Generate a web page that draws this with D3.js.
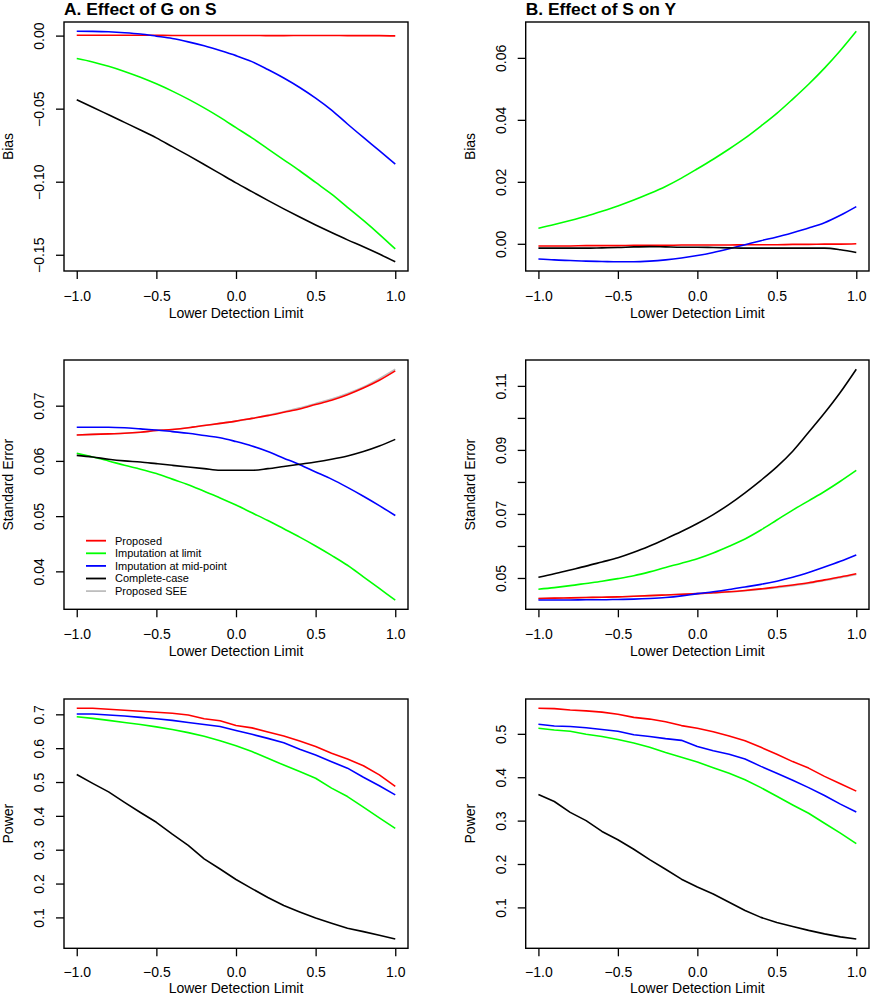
<!DOCTYPE html>
<html><head><meta charset="utf-8">
<script src="https://cdn.jsdelivr.net/npm/d3@7"></script>
<style>
body{margin:0;background:#fff}
svg{display:block}
text{font-family:"Liberation Sans",Arial,Helvetica,sans-serif;fill:#000}
</style>
</head><body>
<script>
// ---------------- data ----------------
const lowerLimit = [-1.0,-0.9,-0.8,-0.7,-0.6,-0.5,-0.4,-0.3,-0.2,-0.1,0.0,0.1,0.2,0.3,0.4,0.5,0.6,0.7,0.8,0.9,1.0];

const seriesNames = ["Proposed","Imputation at limit","Imputation at mid-point","Complete-case","Proposed SEE"];
const seriesColors = ["#ff0000","#00ff00","#0000ff","#000000","#bebebe"];

// A. Effect of G on S -- Bias
const biasA_proposed = [0.0002,0.0002,0.0002,0.0002,0.0002,0.0002,0.0001,0.0001,0.0001,0.0001,0.0001,0.0001,0.0000,0.0000,0.0001,0.0001,0.0001,0.0000,0.0000,0.0000,-0.0002];
const biasA_limit    = [-0.0157,-0.0180,-0.0210,-0.0245,-0.0285,-0.0330,-0.0380,-0.0435,-0.0495,-0.0560,-0.0630,-0.0700,-0.0775,-0.0850,-0.0925,-0.1005,-0.1085,-0.1175,-0.1265,-0.1360,-0.1460];
const biasA_mid      = [0.0030,0.0029,0.0026,0.0020,0.0011,-0.0004,-0.0020,-0.0043,-0.0070,-0.0102,-0.0137,-0.0178,-0.0232,-0.0290,-0.0355,-0.0428,-0.0510,-0.0605,-0.0697,-0.0787,-0.0879];
const biasA_cc       = [-0.0439,-0.0490,-0.0542,-0.0594,-0.0646,-0.0700,-0.0760,-0.0820,-0.0882,-0.0945,-0.1008,-0.1068,-0.1128,-0.1186,-0.1242,-0.1296,-0.1348,-0.1398,-0.1445,-0.1495,-0.1548];

// B. Effect of S on Y -- Bias
const biasB_proposed = [-0.0007,-0.0007,-0.0007,-0.0006,-0.0006,-0.0006,-0.0005,-0.0005,-0.0005,-0.0004,-0.0004,-0.0004,-0.0004,-0.0003,-0.0003,-0.0003,-0.0002,-0.0002,-0.0001,-0.0001,0.0000];
const biasB_limit    = [0.0050,0.0062,0.0075,0.0089,0.0105,0.0122,0.0141,0.0162,0.0185,0.0212,0.0242,0.0273,0.0306,0.0341,0.0380,0.0421,0.0467,0.0515,0.0567,0.0624,0.0686];
const biasB_mid      = [-0.0049,-0.0052,-0.0054,-0.0056,-0.0057,-0.0058,-0.0058,-0.0056,-0.0052,-0.0046,-0.0038,-0.0028,-0.0016,-0.0003,0.0010,0.0022,0.0036,0.0051,0.0068,0.0092,0.0120];
const biasB_cc       = [-0.0014,-0.0014,-0.0014,-0.0014,-0.0013,-0.0012,-0.0010,-0.0009,-0.0010,-0.0011,-0.0011,-0.0012,-0.0013,-0.0014,-0.0014,-0.0014,-0.0014,-0.0014,-0.0014,-0.0019,-0.0028];

// A -- Standard Error
const seA_proposed = [0.0647,0.0648,0.0649,0.0650,0.0652,0.0655,0.0657,0.0660,0.0664,0.0668,0.0672,0.0677,0.0682,0.0688,0.0694,0.0702,0.0710,0.0720,0.0732,0.0746,0.0763];
const seA_limit    = [0.0614,0.0607,0.0600,0.0592,0.0585,0.0577,0.0567,0.0557,0.0545,0.0533,0.0520,0.0506,0.0492,0.0477,0.0462,0.0446,0.0429,0.0411,0.0390,0.0369,0.0348];
const seA_mid      = [0.0661,0.0661,0.0661,0.0660,0.0658,0.0656,0.0653,0.0650,0.0646,0.0642,0.0635,0.0627,0.0617,0.0605,0.0593,0.0580,0.0567,0.0552,0.0536,0.0519,0.0501];
const seA_cc       = [0.0610,0.0607,0.0603,0.0600,0.0598,0.0595,0.0592,0.0589,0.0586,0.0583,0.0583,0.0583,0.0586,0.0590,0.0594,0.0598,0.0603,0.0609,0.0617,0.0627,0.0639];
const seA_see      = [0.0647,0.0648,0.0649,0.0650,0.0652,0.0655,0.0657,0.0660,0.0664,0.0668,0.0672,0.0677,0.0683,0.0689,0.0696,0.0704,0.0712,0.0722,0.0734,0.0749,0.0766];

// B -- Standard Error
const seB_proposed = [0.0436,0.0437,0.0438,0.0439,0.0440,0.0441,0.0443,0.0445,0.0447,0.0449,0.0451,0.0454,0.0457,0.0461,0.0466,0.0472,0.0478,0.0485,0.0494,0.0503,0.0513];
const seB_limit    = [0.0465,0.0470,0.0476,0.0483,0.0490,0.0498,0.0507,0.0519,0.0533,0.0546,0.0560,0.0578,0.0599,0.0622,0.0650,0.0681,0.0712,0.0741,0.0770,0.0802,0.0836];
const seB_mid      = [0.0431,0.0431,0.0431,0.0432,0.0432,0.0433,0.0434,0.0436,0.0439,0.0444,0.0451,0.0457,0.0464,0.0472,0.0480,0.0490,0.0502,0.0517,0.0534,0.0552,0.0572];
const seB_cc       = [0.0502,0.0513,0.0525,0.0537,0.0550,0.0563,0.0580,0.0600,0.0622,0.0645,0.0670,0.0698,0.0730,0.0766,0.0805,0.0847,0.0896,0.0955,0.1015,0.1080,0.1152];
const seB_see      = [0.0436,0.0437,0.0438,0.0439,0.0440,0.0441,0.0443,0.0445,0.0447,0.0449,0.0451,0.0453,0.0456,0.0460,0.0465,0.0470,0.0476,0.0483,0.0492,0.0501,0.0511];

// A -- Power
const powA_proposed = [0.718,0.718,0.715,0.712,0.709,0.706,0.703,0.698,0.687,0.681,0.667,0.660,0.648,0.636,0.621,0.605,0.585,0.568,0.548,0.521,0.487];
const powA_limit    = [0.693,0.688,0.682,0.676,0.670,0.663,0.655,0.646,0.635,0.622,0.607,0.590,0.570,0.550,0.531,0.511,0.482,0.457,0.426,0.394,0.363];
const powA_mid      = [0.701,0.701,0.698,0.695,0.691,0.687,0.682,0.676,0.670,0.664,0.652,0.641,0.629,0.616,0.597,0.580,0.560,0.541,0.514,0.489,0.462];
const powA_cc       = [0.522,0.496,0.471,0.440,0.410,0.381,0.346,0.313,0.273,0.243,0.212,0.185,0.159,0.135,0.116,0.098,0.083,0.068,0.058,0.047,0.036];

// B -- Power
const powB_proposed = [0.559,0.558,0.555,0.553,0.550,0.545,0.538,0.534,0.528,0.519,0.513,0.505,0.495,0.484,0.469,0.453,0.436,0.421,0.402,0.385,0.368];
const powB_limit    = [0.513,0.509,0.506,0.499,0.494,0.487,0.479,0.469,0.457,0.446,0.435,0.422,0.409,0.394,0.376,0.356,0.336,0.317,0.294,0.271,0.247];
const powB_mid      = [0.522,0.518,0.517,0.514,0.510,0.506,0.498,0.494,0.489,0.485,0.471,0.461,0.453,0.442,0.425,0.409,0.393,0.376,0.358,0.338,0.320];
const powB_cc       = [0.360,0.344,0.319,0.300,0.275,0.256,0.234,0.210,0.188,0.165,0.147,0.131,0.112,0.093,0.077,0.065,0.056,0.047,0.039,0.032,0.027];

// tick labels
const xTickValues = [-1.0,-0.5,0.0,0.5,1.0];
const xTickLabels = ["\u22121.0","\u22120.5","0.0","0.5","1.0"];
const yTicksBiasA = [0.00,-0.05,-0.10,-0.15];
const yLabelsBiasA = ["0.00","\u22120.05","\u22120.10","\u22120.15"];
const yTicksBiasB = [0.00,0.02,0.04,0.06];
const yLabelsBiasB = ["0.00","0.02","0.04","0.06"];
const yTicksSeA = [0.04,0.05,0.06,0.07];
const yLabelsSeA = ["0.04","0.05","0.06","0.07"];
const yTicksSeB = [0.05,0.06,0.07,0.08,0.09,0.10,0.11];
const yLabelsSeB = ["0.05","","0.07","","0.09","","0.11"];
const yTicksPowA = [0.1,0.2,0.3,0.4,0.5,0.6,0.7];
const yLabelsPowA = ["0.1","0.2","0.3","0.4","0.5","0.6","0.7"];
const yTicksPowB = [0.1,0.2,0.3,0.4,0.5];
const yLabelsPowB = ["0.1","0.2","0.3","0.4","0.5"];

const titles = ["A. Effect of G on S","B. Effect of S on Y"];
const xAxisTitle = "Lower Detection Limit";

// ---------------- drawing ----------------
const W = 870, H = 996;
const svg = d3.select("body").append("svg").attr("width",W).attr("height",H);
svg.append("rect").attr("width",W).attr("height",H).attr("fill","#fff");

const colX = [[64,408],[525.7,869]];
const rowY = [[22,271],[360,609.3],[699,948.3]];

function rExtent(vals){ // R-style 4% extension
  const e = d3.extent(vals); const p = (e[1]-e[0])*0.04; return [e[0]-p, e[1]+p];
}

function panel(col,row,series,yTicks,yLabels,yTitle,smooth,legend){
  const [x0,x1] = colX[col], [y0,y1] = rowY[row];
  const lastRow = row===2;
  const x = d3.scaleLinear().domain(rExtent(lowerLimit)).range([x0,x1]);
  const y = d3.scaleLinear().domain(rExtent(series.flatMap(s=>s.values))).range([y1,y0]);
  const g = svg.append("g");

  const line = d3.line().x((d,i)=>x(lowerLimit[i])).y(d=>y(d))
    .curve(smooth ? d3.curveMonotoneX : d3.curveLinear);
  series.forEach(s=>{
    g.append("path").datum(s.values).attr("d",line)
      .attr("fill","none").attr("stroke",s.color).attr("stroke-width",1.6)
      .attr("stroke-linejoin","round");
  });

  g.append("rect").attr("x",x0).attr("y",y0).attr("width",x1-x0).attr("height",y1-y0)
    .attr("fill","none").attr("stroke","#000").attr("stroke-width",1.4);

  const ax = g.append("g").attr("transform",`translate(0,${y1})`)
    .call(d3.axisBottom(x).tickValues(xTickValues).tickSize(8).tickSizeOuter(0).tickPadding(lastRow ? 10.5 : 12)
      .tickFormat((d,i)=>xTickLabels[i]));
  ax.select(".domain").remove();
  ax.selectAll("line").attr("stroke","#000").attr("stroke-width",1.3);
  ax.selectAll("text").attr("font-size",14).attr("font-family",null);

  const ay = g.append("g").attr("transform",`translate(${x0},0)`)
    .call(d3.axisLeft(y).tickValues(yTicks).tickSize(8).tickSizeOuter(0)
      .tickFormat((d,i)=>yLabels[i]));
  ay.select(".domain").remove();
  ay.selectAll("line").attr("stroke","#000").attr("stroke-width",1.3);
  ay.selectAll("text").attr("font-size",14).attr("font-family",null)
    .attr("x",null).attr("dy","0.35em").attr("text-anchor","middle")
    .attr("transform","translate(-25,0) rotate(-90)");

  g.append("text").attr("x",(x0+x1)/2).attr("y",lastRow ? 993 : y1+47).attr("text-anchor","middle")
    .attr("font-size",14).text(xAxisTitle);
  g.append("text").attr("transform",`translate(${x0-56},${(y0+y1)/2}) rotate(-90)`)
    .attr("dy","0.35em").attr("text-anchor","middle").attr("font-size",14).text(yTitle);

  if(row===0){
    g.append("text").attr("x",x0).attr("y",15).attr("font-size",17.4).attr("font-weight","bold")
      .text(titles[col]);
  }

  if(legend){
    const lg = g.append("g");
    seriesNames.forEach((n,i)=>{
      const ly = 540.7 + i*12.6;
      lg.append("line").attr("x1",86).attr("x2",106).attr("y1",ly).attr("y2",ly)
        .attr("stroke",seriesColors[i]).attr("stroke-width",1.8);
      lg.append("text").attr("x",115).attr("y",ly).attr("dy","0.35em").attr("font-size",11).text(n);
    });
  }
}

function mk(vals, idx){ return vals.map((v,k)=>({values:v,color:seriesColors[idx[k]]})); }

panel(0,0, mk([biasA_proposed,biasA_limit,biasA_mid,biasA_cc],[0,1,2,3]), yTicksBiasA, yLabelsBiasA, "Bias", true, false);
panel(1,0, mk([biasB_proposed,biasB_limit,biasB_mid,biasB_cc],[0,1,2,3]), yTicksBiasB, yLabelsBiasB, "Bias", true, false);
panel(0,1, mk([seA_see,seA_proposed,seA_limit,seA_mid,seA_cc],[4,0,1,2,3]), yTicksSeA, yLabelsSeA, "Standard Error", true, true);
panel(1,1, mk([seB_see,seB_proposed,seB_limit,seB_mid,seB_cc],[4,0,1,2,3]), yTicksSeB, yLabelsSeB, "Standard Error", true, false);
panel(0,2, mk([powA_proposed,powA_limit,powA_mid,powA_cc],[0,1,2,3]), yTicksPowA, yLabelsPowA, "Power", false, false);
panel(1,2, mk([powB_proposed,powB_limit,powB_mid,powB_cc],[0,1,2,3]), yTicksPowB, yLabelsPowB, "Power", false, false);
</script>
</body></html>
